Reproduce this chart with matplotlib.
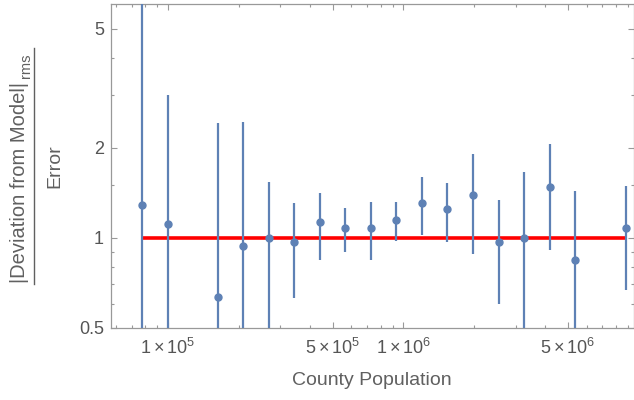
import numpy as np
import matplotlib
matplotlib.use('Agg')
import matplotlib.pyplot as plt
from matplotlib.ticker import FixedLocator, NullFormatter, LogLocator

plt.rcParams['font.family'] = ['Liberation Sans', 'DejaVu Sans']
plt.rcParams['mathtext.fontset'] = 'custom'
plt.rcParams['mathtext.rm'] = 'Liberation Sans'
plt.rcParams['mathtext.it'] = 'Liberation Sans'

# county population bins and the rms deviation / error ratio
population = [7.77e4, 9.97e4, 1.637e5, 2.091e5, 2.682e5, 3.427e5, 4.405e5, 5.667e5,
              7.257e5, 9.337e5, 1.201e6, 1.539e6, 1.980e6, 2.537e6, 3.263e6,
              4.18e6, 5.38e6, 8.87e6]
ratio = [1.292, 1.114, 0.636, 0.942, 1.0, 0.972, 1.129, 1.080, 1.080, 1.146,
         1.312, 1.253, 1.396, 0.972, 1.0, 1.485, 0.846, 1.080]
error = [5.0, 1.9, 1.79, 1.50, 0.543, 0.34, 0.284, 0.18, 0.238, 0.17,
         0.29, 0.28, 0.51, 0.37, 0.667, 0.57, 0.59, 0.41]

xticks = [1e5, 5e5, 1e6, 5e6]
xlabels = [r'$1\times10^{5}$', r'$5\times10^{5}$', r'$1\times10^{6}$', r'$5\times10^{6}$']
yticks = [0.5, 1, 2, 5]
ylabels = ['0.5', '1', '2', '5']

blue = '#5E81B5'
gray = '#555555'
label_gray = '#606060'
frame = '#999999'

x = np.array(population)
y = np.array(ratio)
e = np.array(error)
lower = np.minimum(e, y - 1e-3)

W, H = 634, 400
fig = plt.figure(figsize=(W / 100, H / 100), dpi=100)
ax = fig.add_axes([111 / W, 72 / H, 522.5 / W, 324 / H])

ax.plot([x[0], x[-1]], [1, 1], color='#FF0000', lw=2.6, zorder=2, solid_capstyle='butt')
ax.errorbar(x, y, yerr=[lower, e], fmt='o', color=blue, ms=5, elinewidth=1.6,
            capsize=0, zorder=3)

ax.set_xscale('log')
ax.set_yscale('log')
ax.set_xlim(5.72e4, 9.5e6)
ax.set_ylim(0.5, 6.06)

ax.xaxis.set_major_locator(FixedLocator(xticks))
ax.set_xticklabels(xlabels)
ax.xaxis.set_minor_locator(LogLocator(base=10, subs=(2, 3, 4, 6, 7, 8, 9)))
ax.xaxis.set_minor_formatter(NullFormatter())
ax.yaxis.set_major_locator(FixedLocator(yticks))
ax.set_yticklabels(ylabels)
ax.yaxis.set_minor_locator(FixedLocator([0.6, 0.7, 0.8, 0.9, 1.5, 3, 4]))
ax.yaxis.set_minor_formatter(NullFormatter())

ax.tick_params(which='both', direction='in', top=True, right=True, color=frame,
               labelcolor=gray, labelsize=13)
ax.tick_params(which='major', length=4.5, width=0.8)
ax.tick_params(which='minor', length=2.5, width=0.8)
ax.tick_params(axis='x', pad=7)
ax.tick_params(axis='y', pad=5)
for s in ax.spines.values():
    s.set_color(frame)
    s.set_linewidth(0.9)

ax.set_xlabel('County Population', color=label_gray, fontsize=14, labelpad=10)

# stacked fraction label on the left (pixel coords measured from top)
def fy(py):
    return 1 - py / H

num = fig.text(25 / W, fy(283), '|Deviation from Model|', rotation=90,
               rotation_mode='anchor', ha='left', va='baseline',
               color=label_gray, fontsize=14.5)
fig.canvas.draw()
ext = num.get_window_extent(fig.canvas.get_renderer())
top_px = H - ext.y1
fig.text(30 / W, fy(top_px - 4), 'rms', rotation=90, rotation_mode='anchor',
         ha='left', va='baseline', color=label_gray, fontsize=10.5)
fig.add_artist(plt.Line2D([34 / W, 34 / W], [fy(284), fy(48)],
                          color=label_gray, lw=1, transform=fig.transFigure))
fig.text(55 / W, fy(166), 'Error', rotation=90, ha='center', va='center',
         color=label_gray, fontsize=14)

fig.savefig('out.png', dpi=100)
